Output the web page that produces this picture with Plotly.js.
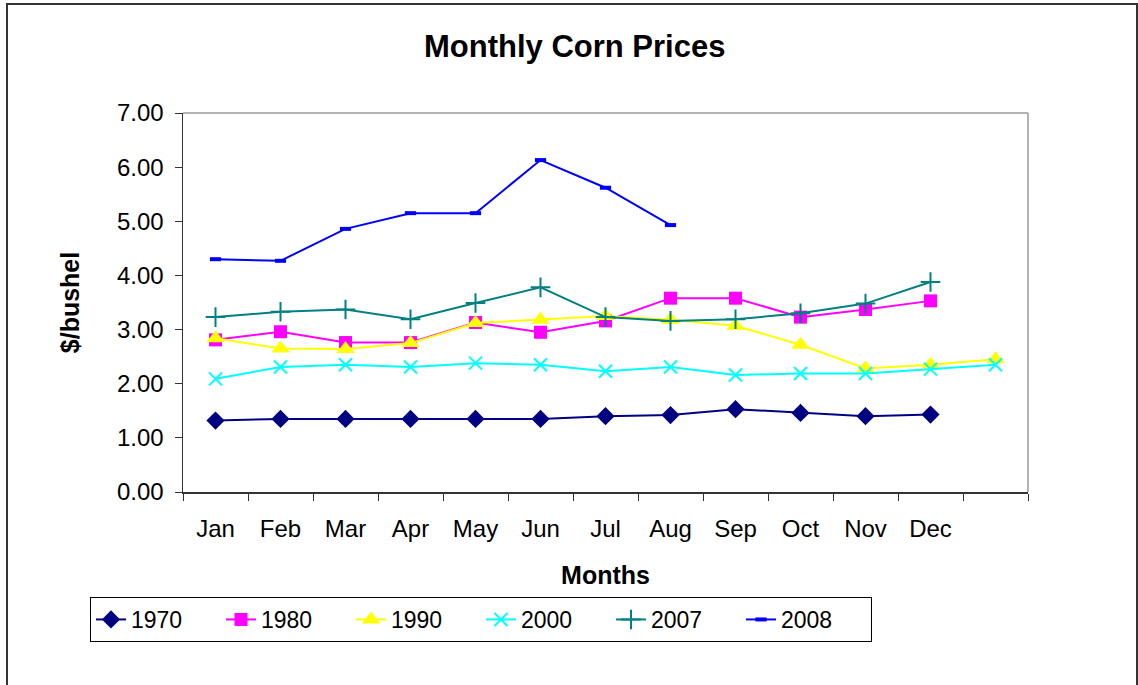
<!DOCTYPE html>
<html>
<head>
<meta charset="utf-8">
<script src="https://cdn.plot.ly/plotly-3.0.1.min.js"></script>
<style>
  html, body { margin: 0; padding: 0; background: #fff; overflow: hidden; }
  #chart { position: absolute; left: 0; top: 0; width: 1138px; height: 685px; }
  #frame { position: absolute; left: 6px; top: 3px; width: 1128px; height: 700px;
           border: 2px solid #333; pointer-events: none; }
</style>
</head>
<body>
<div id="chart"></div>
<div id="frame"></div>
<script>
const months = ["Jan","Feb","Mar","Apr","May","Jun","Jul","Aug","Sep","Oct","Nov","Dec"," "];
const y1970 = [1.32,1.35,1.35,1.35,1.35,1.35,1.40,1.42,1.53,1.46,1.40,1.43];
const y1980 = [2.81,2.96,2.76,2.76,3.13,2.95,3.16,3.58,3.58,3.23,3.37,3.53];
const y1990 = [2.84,2.65,2.64,2.75,3.12,3.18,3.25,3.18,3.07,2.72,2.28,2.35,2.45];
const y2000 = [2.09,2.31,2.35,2.31,2.38,2.35,2.23,2.31,2.16,2.19,2.19,2.27,2.35];
const y2007 = [3.23,3.33,3.37,3.19,3.49,3.78,3.23,3.16,3.19,3.30,3.48,3.88];
const y2008 = [4.30,4.27,4.86,5.15,5.15,6.13,5.62,4.93];

function tr(name, ys, color, symbol, size, lineMarker) {
  const m = { symbol: symbol, size: size, color: color };
  if (lineMarker) m.line = { color: color, width: lineMarker };
  return {
    type: 'scatter', mode: 'lines+markers', name: name,
    x: months.slice(0, ys.length), y: ys,
    line: { color: color, width: 2 },
    marker: m
  };
}

const data = [
  tr('1970', y1970, '#000080', 'diamond', 14),
  tr('1980', y1980, '#FF00FF', 'square', 13),
  tr('1990', y1990, '#FFFF00', 'triangle-up', 16),
  tr('2000', y2000, '#00FFFF', 'x-thin', 13, 2),
  tr('2007', y2007, '#008080', 'cross-thin', 14, 2),
  tr('2008', y2008, '#0000FF', 'line-ew', 8, 4)
];

const font = 'Liberation Sans, Arial, sans-serif';
const layout = {
  width: 1138, height: 685,
  paper_bgcolor: '#fff', plot_bgcolor: '#fff',
  margin: { l: 183, r: 110, t: 113, b: 193 },
  showlegend: true,
  font: { family: font, size: 22, color: '#000' },
  title: { text: '<b>Monthly Corn Prices</b>', font: { family: font, size: 31, color: '#000' },
           x: 0.505, xref: 'container', xanchor: 'center', y: 0.933, yref: 'container', yanchor: 'middle' },
  xaxis: {
    type: 'category', categoryorder: 'array', categoryarray: months,
    range: [-0.5, 12.5], fixedrange: true,
    tickson: 'boundaries', ticks: 'outside', ticklen: 7, tickcolor: '#333', tickwidth: 1,
    showline: true, linecolor: '#333', linewidth: 1.5, showgrid: false, zeroline: false,
    tickfont: { family: font, size: 24, color: '#000' }, ticklabelstandoff: 15,
    title: { text: '<b>Months</b>', font: { family: font, size: 25, color: '#000' }, standoff: 25 }
  },
  yaxis: {
    range: [0, 7], dtick: 1, tickformat: '.2f', fixedrange: true,
    ticks: 'outside', ticklen: 7, tickcolor: '#333', tickwidth: 1,
    showline: true, linecolor: '#333', linewidth: 1.5, showgrid: false, zeroline: false,
    tickfont: { family: font, size: 24, color: '#000' }, ticklabelstandoff: 6,
    title: { text: '<b>$/bushel</b>', font: { family: font, size: 25, color: '#000' }, standoff: 30 }
  },
  shapes: [
    { type: 'line', xref: 'paper', yref: 'paper', x0: 0, x1: 1, y0: 1, y1: 1, line: { color: '#999', width: 1.5 } },
    { type: 'line', xref: 'paper', yref: 'paper', x0: 1, x1: 1, y0: 0, y1: 1, line: { color: '#999', width: 1.5 } }
  ],
  legend: {
    orientation: 'h', xref: 'container', yref: 'container',
    x: 90 / 1138, y: 1 - 597 / 685, xanchor: 'left', yanchor: 'top',
    bordercolor: '#000', borderwidth: 1, bgcolor: '#fff',
    font: { family: font, size: 23, color: '#000' },
    entrywidth: 85, entrywidthmode: 'pixels', itemwidth: 30
  }
};

Plotly.newPlot('chart', data, layout, { displayModeBar: false, staticPlot: true });
</script>
</body>
</html>
